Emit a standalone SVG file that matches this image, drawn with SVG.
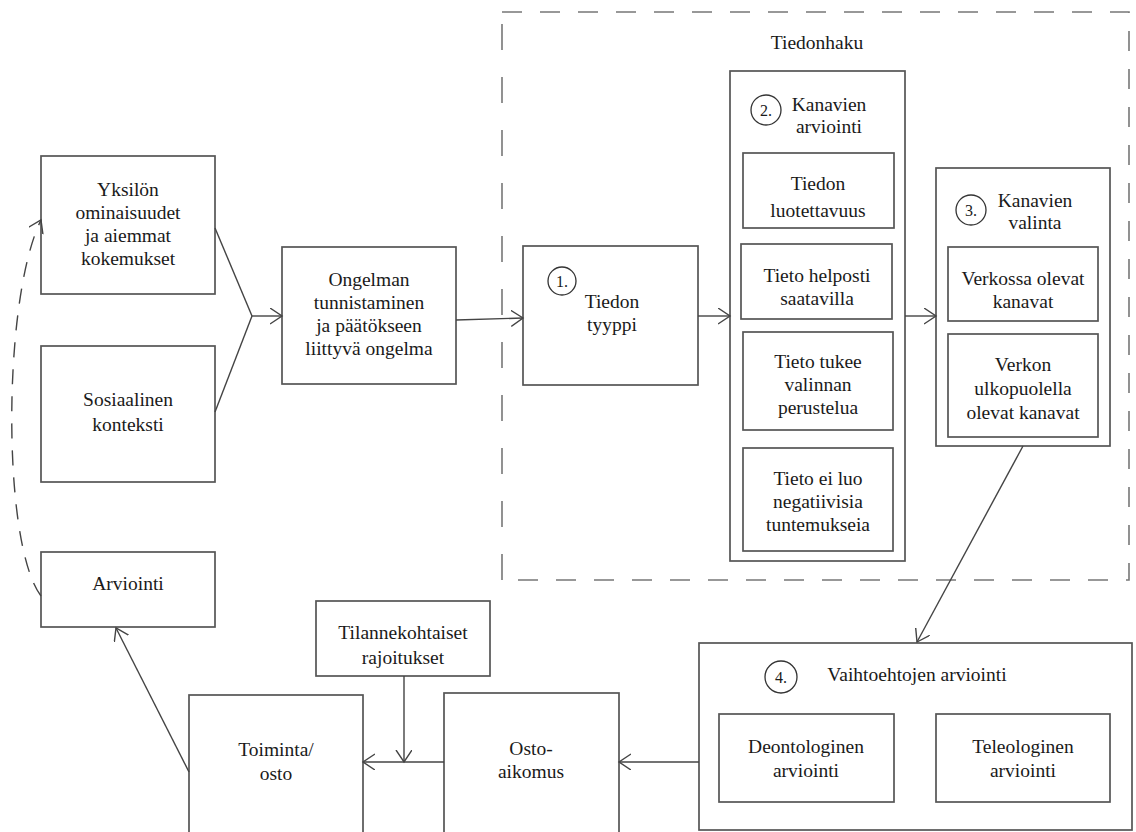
<svg xmlns="http://www.w3.org/2000/svg" width="1136" height="832" viewBox="0 0 1136 832" font-family="'Liberation Serif', 'DejaVu Serif', serif">
  <defs>
    <marker id="arrow" markerUnits="userSpaceOnUse" markerWidth="16" markerHeight="18" refX="12" refY="8" orient="auto">
      <path d="M0,0 L12,8 L0,16" fill="none" stroke="#444" stroke-width="1.4"/>
    </marker>
    <style>
      rect.box { fill: #fff; stroke: #555; stroke-width: 1.7; }
      rect.inner { fill: #fff; stroke: #555; stroke-width: 1.7; }
      circle.num { fill: none; stroke: #333; stroke-width: 1.3; }
      text { font-family: 'Liberation Serif', 'DejaVu Serif', serif; font-size: 19.5px; fill: #1a1a1a; text-anchor: middle; }
      text.n { font-size: 16px; }
      .conn line, .conn path { stroke: #444; stroke-width: 1.4; fill: none; }
      .frame { fill: none; stroke: #777; stroke-width: 1.6; }
    </style>
  </defs>
  <rect width="1136" height="832" fill="#fff"/>

  <!-- information search frame -->
  <g id="tiedonhaku">
    <path class="frame" d="M502,12 H1129 V580 H502" stroke-dasharray="20 18"/>
    <path class="frame" d="M502,580 V12" stroke-dasharray="26 27"/>
    <text x="817" y="49">Tiedonhaku</text>
  </g>

  <g id="yksilo">
    <rect class="box" x="41" y="156" width="174" height="138"/>
    <text x="128" y="196">Yksilön</text>
    <text x="128" y="219">ominaisuudet</text>
    <text x="128" y="242">ja aiemmat</text>
    <text x="128" y="265">kokemukset</text>
  </g>

  <g id="sosiaalinen">
    <rect class="box" x="41" y="346" width="174" height="136"/>
    <text x="128" y="406">Sosiaalinen</text>
    <text x="128" y="431">konteksti</text>
  </g>

  <g id="arviointi">
    <rect class="box" x="41" y="552" width="174" height="75"/>
    <text x="128" y="590">Arviointi</text>
  </g>

  <g id="ongelma">
    <rect class="box" x="282" y="247" width="174" height="137"/>
    <text x="369" y="286">Ongelman</text>
    <text x="369" y="309">tunnistaminen</text>
    <text x="369" y="332">ja päätökseen</text>
    <text x="369" y="355">liittyvä ongelma</text>
  </g>

  <g id="tiedon-tyyppi">
    <rect class="box" x="523" y="246" width="175" height="139"/>
    <circle class="num" cx="562" cy="281" r="14"/>
    <text class="n" x="562" y="287">1.</text>
    <text x="612" y="308">Tiedon</text>
    <text x="612" y="331">tyyppi</text>
  </g>

  <g id="kanavien-arviointi">
    <rect class="box" x="730" y="71" width="175" height="490"/>
    <circle class="num" cx="766" cy="110" r="15"/>
    <text class="n" x="766" y="116">2.</text>
    <text x="829" y="111">Kanavien</text>
    <text x="829" y="133">arviointi</text>
    <g id="luotettavuus">
      <rect class="inner" x="743" y="153" width="151" height="75"/>
      <text x="818" y="190">Tiedon</text>
      <text x="818" y="217">luotettavuus</text>
    </g>
    <g id="saatavilla">
      <rect class="inner" x="741" y="244" width="151" height="75" stroke="#333"/>
      <text x="817" y="282">Tieto helposti</text>
      <text x="817" y="305">saatavilla</text>
    </g>
    <g id="perustelua">
      <rect class="inner" x="743" y="332" width="150" height="98" stroke="#333"/>
      <text x="818" y="368">Tieto tukee</text>
      <text x="818" y="391">valinnan</text>
      <text x="818" y="414">perustelua</text>
    </g>
    <g id="tuntemukset">
      <rect class="inner" x="743" y="448" width="150" height="103"/>
      <text x="818" y="485">Tieto ei luo</text>
      <text x="818" y="508">negatiivisia</text>
      <text x="818" y="531">tuntemukseia</text>
    </g>
  </g>

  <g id="kanavien-valinta">
    <rect class="box" x="936" y="168" width="174" height="278"/>
    <circle class="num" cx="971" cy="210" r="15"/>
    <text class="n" x="971" y="216">3.</text>
    <text x="1035" y="207">Kanavien</text>
    <text x="1035" y="229">valinta</text>
    <g id="verkossa">
      <rect class="inner" x="948" y="247" width="150" height="74"/>
      <text x="1023" y="285">Verkossa olevat</text>
      <text x="1023" y="308">kanavat</text>
    </g>
    <g id="verkon-ulkopuolella">
      <rect class="inner" x="948" y="334" width="150" height="103"/>
      <text x="1023" y="371">Verkon</text>
      <text x="1023" y="395">ulkopuolella</text>
      <text x="1023" y="419">olevat kanavat</text>
    </g>
  </g>

  <g id="vaihtoehtojen-arviointi">
    <rect class="box" x="699" y="643" width="433" height="187"/>
    <circle class="num" cx="781" cy="677" r="16"/>
    <text class="n" x="781" y="683">4.</text>
    <text x="917" y="681">Vaihtoehtojen arviointi</text>
    <g id="deontologinen">
      <rect class="inner" x="719" y="714" width="175" height="88"/>
      <text x="806" y="753">Deontologinen</text>
      <text x="806" y="777">arviointi</text>
    </g>
    <g id="teleologinen">
      <rect class="inner" x="936" y="714" width="174" height="88"/>
      <text x="1023" y="753">Teleologinen</text>
      <text x="1023" y="777">arviointi</text>
    </g>
  </g>

  <g id="ostoaikomus">
    <rect class="box" x="444" y="693" width="175" height="150"/>
    <text x="531" y="755">Osto-</text>
    <text x="531" y="778">aikomus</text>
  </g>

  <g id="tilannekohtaiset">
    <rect class="box" x="316" y="601" width="174" height="75"/>
    <text x="403" y="639">Tilannekohtaiset</text>
    <text x="403" y="664">rajoitukset</text>
  </g>

  <g id="toiminta">
    <rect class="box" x="189" y="695" width="174" height="150"/>
    <text x="276" y="756">Toiminta/</text>
    <text x="276" y="780">osto</text>
  </g>

  <g id="connectors" class="conn">
    <line x1="215" y1="228" x2="252" y2="316"/>
    <line x1="215" y1="412" x2="252" y2="316"/>
    <line x1="252" y1="316" x2="282" y2="316" marker-end="url(#arrow)"/>
    <line x1="456" y1="320" x2="523" y2="318" marker-end="url(#arrow)"/>
    <line x1="698" y1="316" x2="730" y2="316" marker-end="url(#arrow)"/>
    <line x1="905" y1="316" x2="936" y2="316" marker-end="url(#arrow)"/>
    <line x1="1023" y1="446" x2="917" y2="642" marker-end="url(#arrow)"/>
    <line x1="699" y1="762" x2="619" y2="762" marker-end="url(#arrow)"/>
    <line x1="444" y1="762" x2="363" y2="762" marker-end="url(#arrow)"/>
    <line x1="404" y1="676" x2="404" y2="762" marker-end="url(#arrow)"/>
    <line x1="189" y1="772" x2="116" y2="628" marker-end="url(#arrow)"/>
    <path d="M41,596 C2,545 2,300 41,220" stroke-dasharray="15 12" marker-end="url(#arrow)"/>
  </g>
</svg>
